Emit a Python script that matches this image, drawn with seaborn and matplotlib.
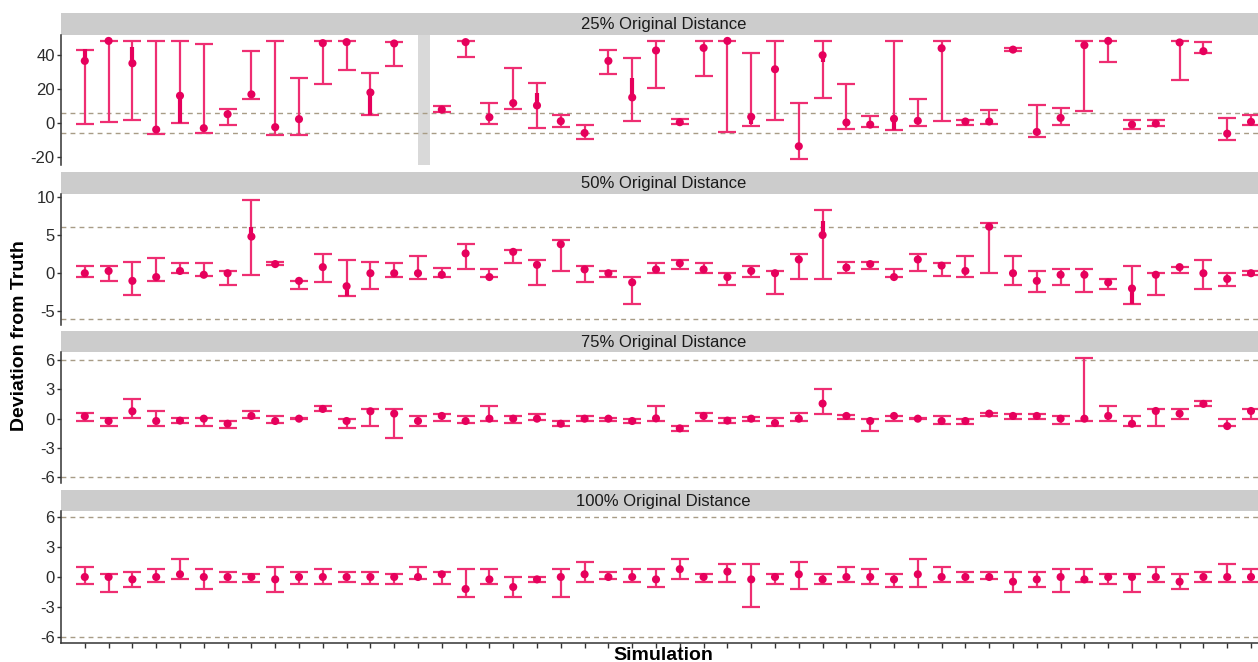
import numpy as np
import pandas as pd
import matplotlib
matplotlib.use("Agg")
import matplotlib.pyplot as plt
import seaborn as sns

sns.set_theme(style="white")
plt.rcParams['font.family'] = ['Liberation Sans', 'DejaVu Sans']

nan = np.nan
simulation = list(range(1, 51))
panel_titles = ["25% Original Distance", "50% Original Distance",
                "75% Original Distance", "100% Original Distance"]

# 25% of the original distance (simulation 15 has no estimate)
est_25 = [36.3, 48.0, 34.9, -3.9, 15.9, -3.1, 5.1, 16.7, -2.5, 2.2,
          46.7, 47.3, 17.8, 46.5, nan, 7.8, 47.3, 3.3, 11.6, 10.2,
          1.0, -5.9, 36.3, 14.9, 42.4, 0.4, 43.9, 48.0, 3.5, 31.4,
          -13.7, 39.6, 0.2, -1.0, 2.4, 1.2, 43.7, 0.8, 0.8, 42.9,
          -5.3, 2.9, 45.5, 48.0, -1.0, -0.4, 47.1, 42.0, -6.3, 0.6]
lo_25 = [-0.8, 0.8, 1.6, -6.5, 0.0, -6.1, -1.2, 14.1, -7.1, -6.9,
         22.7, 31.2, 4.7, 33.5, nan, 6.5, 38.8, -0.6, 8.2, -3.1,
         -2.7, -9.2, 28.8, 1.0, 20.6, -0.8, 27.5, -5.5, -1.8, 1.8,
         -21.2, 14.5, -3.5, -2.4, -4.1, -1.6, 1.0, -1.0, -0.6, 42.2,
         -8.2, -1.4, 6.9, 35.7, -3.7, -1.6, 24.9, 40.8, -10.2, -1.4]
hi_25 = [42.9, 48.0, 48.0, 48.0, 48.0, 46.3, 8.0, 42.0, 48.0, 26.3,
         48.0, 48.0, 29.0, 47.6, nan, 10.0, 48.0, 11.8, 32.0, 23.5,
         4.5, -1.4, 42.5, 38.0, 48.0, 2.0, 48.0, 48.0, 41.0, 48.0,
         11.8, 48.0, 22.9, 3.9, 48.0, 13.9, 48.0, 1.6, 7.6, 43.9,
         10.2, 9.0, 48.0, 48.0, 1.8, 1.6, 48.0, 47.1, 2.9, 4.7]

# 50% of the original distance
est_50 = [0.0, 0.3, -1.0, -0.5, 0.3, -0.2, 0.0, 4.8, 1.2, -1.0,
          0.8, -1.7, 0.0, 0.0, 0.0, -0.2, 2.6, -0.5, 2.8, 1.1,
          3.8, 0.5, 0.0, -1.2, 0.5, 1.3, 0.5, -0.5, 0.3, 0.0,
          1.8, 5.0, 0.75, 1.2, -0.5, 1.8, 1.0, 0.3, 6.1, 0.0,
          -1.0, -0.2, -0.2, -1.2, -2.0, -0.2, 0.8, 0.0, -0.75, 0.0]
lo_50 = [-0.5, -1.0, -2.8, -1.0, 0.0, -0.3, -1.5, -0.2, 1.1, -2.0,
         -1.2, -3.0, -2.0, -0.5, -0.8, -0.5, 0.5, -0.5, 1.3, -1.5,
         0.3, -1.2, -0.5, -4.0, 0.0, 0.5, 0.0, -1.5, -0.5, -2.7,
         -0.8, -0.8, 0.0, 0.5, -0.5, 0.3, -0.3, -0.5, 0.0, -1.5,
         -2.5, -1.5, -2.5, -2.0, -4.0, -2.8, 0.0, -2.0, -1.7, -0.2]
hi_50 = [1.0, 1.0, 1.5, 2.0, 1.3, 1.3, 0.3, 9.6, 1.45, -1.0,
         2.5, 1.8, 1.5, 1.3, 2.3, 0.75, 3.8, 0.5, 3.0, 1.8,
         4.3, 1.0, 0.3, -0.5, 1.3, 1.8, 1.3, 0.0, 1.0, 0.3,
         2.5, 8.3, 1.5, 1.5, 0.5, 2.5, 1.3, 2.3, 6.6, 2.3,
         0.3, 0.5, 0.5, -0.8, 1.0, 0.0, 0.8, 1.8, 0.0, 0.3]

# 75% of the original distance
est_75 = [0.24, -0.24, 0.76, -0.24, -0.2, 0.0, -0.52, 0.28, -0.24, 0.0,
          1.0, -0.24, 0.76, 0.52, -0.24, 0.28, -0.24, 0.0, 0.0, 0.0,
          -0.52, 0.0, 0.0, -0.24, 0.03, -1.0, 0.28, -0.2, 0.0, -0.45,
          0.0, 1.55, 0.28, -0.24, 0.28, 0.0, -0.24, -0.24, 0.52, 0.28,
          0.28, 0.0, 0.0, 0.28, -0.52, 0.79, 0.52, 1.52, -0.76, 0.79]
lo_75 = [-0.24, -0.76, 0.03, -0.76, -0.41, -0.76, -1.0, 0.03, -0.41, -0.03,
         0.76, -1.0, -0.76, -2.0, -0.76, -0.24, -0.48, -0.24, -0.48, -0.14,
         -0.76, -0.24, -0.24, -0.48, -0.24, -1.24, -0.24, -0.41, -0.24, -0.76,
         -0.24, 0.52, 0.0, -1.24, -0.24, -0.07, -0.52, -0.52, 0.28, 0.0,
         0.0, -0.52, -0.24, -0.24, -0.76, -0.76, 0.0, 1.28, -0.76, 0.0]
hi_75 = [0.55, 0.03, 2.0, 0.79, 0.03, 0.03, -0.24, 0.79, 0.28, 0.03,
         1.28, 0.0, 1.03, 1.0, 0.28, 0.52, 0.28, 1.28, 0.28, 0.52,
         -0.24, 0.28, 0.1, 0.0, 1.28, -0.76, 0.55, 0.03, 0.14, 0.03,
         0.55, 3.0, 0.38, 0.0, 0.28, 0.07, 0.24, 0.0, 0.62, 0.52,
         0.52, 0.28, 6.24, 1.28, 0.28, 1.0, 1.0, 1.79, 0.0, 1.0]

# 100% of the original distance
est_100 = [0.0, 0.0, -0.24, 0.0, 0.27, 0.0, 0.0, 0.0, -0.24, 0.0,
           0.0, 0.0, 0.0, 0.0, 0.0, 0.27, -1.2, -0.24, -1.0, -0.24,
           0.0, 0.27, 0.0, 0.0, -0.24, 0.78, 0.0, 0.54, -0.24, 0.0,
           0.27, -0.24, 0.0, 0.0, -0.24, 0.27, 0.0, 0.0, 0.0, -0.47,
           -0.24, 0.0, -0.24, 0.0, 0.0, 0.0, -0.47, 0.0, 0.0, 0.0]
lo_100 = [-0.7, -1.45, -1.0, -0.47, -0.24, -1.2, -0.47, -0.47, -1.45, -0.7,
          -0.7, -0.47, -0.7, -0.7, -0.24, -0.7, -1.96, -0.7, -1.96, -0.47,
          -1.96, -0.47, -0.24, -0.47, -1.0, -0.24, -0.47, -0.47, -2.97, -0.7,
          -1.2, -0.7, -0.47, -0.7, -1.0, -1.0, -0.47, -0.47, -0.24, -1.45,
          -1.0, -1.45, -0.47, -0.7, -1.45, -0.47, -1.2, -0.47, -0.47, -0.47]
hi_100 = [1.0, 0.27, 0.54, 0.78, 1.76, 0.78, 0.54, 0.27, 1.0, 0.54,
          0.78, 0.54, 0.54, 0.27, 1.0, 0.54, 0.78, 0.78, 0.0, 0.0,
          0.78, 1.52, 0.54, 0.78, 0.78, 1.76, 0.27, 1.28, 1.28, 0.27,
          1.52, 0.27, 1.0, 0.78, 0.27, 1.76, 1.0, 0.54, 0.54, 0.54,
          0.54, 0.78, 0.78, 0.27, 0.27, 1.0, 0.27, 0.54, 1.28, 0.78]

# Overlapping inner intervals drawn heavier: (simulation, low, high)
inner_25 = [(1, 36.3, 43.0), (3, 34.9, 44.7), (5, 0.0, 15.9), (13, 4.7, 17.8),
            (20, 10.2, 17.3), (24, 14.9, 26.1), (29, -0.8, 3.5), (32, 35.5, 39.6),
            (35, -4.1, 2.4)]
inner_50 = [(8, 4.8, 6.1), (12, -3.0, -1.7), (32, 5.0, 6.9), (45, -4.0, -2.0)]

reference_band = 6
yticks = [[-20, 0, 20, 40], [-5, 0, 5, 10], [-6, -3, 0, 3, 6], [-6, -3, 0, 3, 6]]

frames = []
for title, e, lo, hi in zip(panel_titles,
                            [est_25, est_50, est_75, est_100],
                            [lo_25, lo_50, lo_75, lo_100],
                            [hi_25, hi_50, hi_75, hi_100]):
    frames.append(pd.DataFrame({"simulation": simulation, "estimate": e,
                                "lower": lo, "upper": hi, "panel": title}))
df = pd.concat(frames, ignore_index=True)
inner = {panel_titles[0]: inner_25, panel_titles[1]: inner_50}

LINE = "#EE2E72"
POINT = "#E6005C"
DASH = "#A89C86"
STRIP = "#CCCCCC"
TXT = "#2B2B2B"

W, H = 1258, 662
fig = plt.figure(figsize=(W / 100, H / 100), dpi=100)
fig.patch.set_facecolor("white")

x_left, x_right = 61, 1266
x_max = (x_right - x_left) / 23.8
layout = [(13, 35, 165), (172, 194, 325), (331, 352, 483), (490, 511, 643)]


def fig_box(top, bottom):
    return [x_left / W, 1 - bottom / H, (x_right - x_left) / W, (bottom - top) / H]


for i, (title, (s_top, a_top, a_bot)) in enumerate(zip(panel_titles, layout)):
    sub = df[df["panel"] == title].dropna()

    # strip with the facet title
    sax = fig.add_axes(fig_box(s_top, a_top))
    sax.set_facecolor(STRIP)
    sax.set_xticks([]); sax.set_yticks([])
    for sp in sax.spines.values():
        sp.set_visible(False)
    sax.text(0.5, 0.47, title, ha="center", va="center", fontsize=12,
             color="#1A1A1A", transform=sax.transAxes)

    ax = fig.add_axes(fig_box(a_top, a_bot))
    ax.set_facecolor("white")

    if i == 0:
        ax.axvspan(15.0, 15.5, color="#D9D9D9", lw=0, zorder=0)

    for yv in (reference_band, -reference_band):
        ax.axhline(yv, color=DASH, lw=1.0, ls=(0, (3.5, 3)), zorder=1)

    ax.vlines(sub["simulation"], sub["lower"], sub["upper"], color=LINE, lw=1.6, zorder=2)
    ax.hlines(sub["upper"], sub["simulation"] - 0.38, sub["simulation"] + 0.38,
              color=LINE, lw=1.6, zorder=2)
    ax.hlines(sub["lower"], sub["simulation"] - 0.38, sub["simulation"] + 0.38,
              color=LINE, lw=1.6, zorder=2)
    for (sx, ilo, ihi) in inner.get(title, []):
        ax.vlines(sx, ilo, ihi, color=POINT, lw=3.0, zorder=3)

    sns.scatterplot(data=sub, x="simulation", y="estimate", ax=ax, color=POINT,
                    s=34, edgecolor="none", linewidth=0, zorder=4, legend=False)

    lo_all = min(sub["lower"].min(), -reference_band)
    hi_all = max(sub["upper"].max(), reference_band)
    pad = 0.05 * (hi_all - lo_all)
    ax.set_ylim(lo_all - pad, hi_all + pad)
    ax.set_xlim(0, x_max)
    ax.set_yticks(yticks[i])
    ax.set_yticklabels([str(t) for t in yticks[i]])
    ax.set_xlabel(""); ax.set_ylabel("")

    for name, sp in ax.spines.items():
        sp.set_visible(name == "left" or (name == "bottom" and i == 3))
        sp.set_color("#333333")
        sp.set_linewidth(1.1)
    ax.tick_params(axis="y", left=True, length=3, width=1.0, color="#333333",
                   labelsize=12, labelcolor=TXT, pad=1.5)
    if i == 3:
        ax.set_xticks(simulation)
        ax.set_xticklabels([])
        ax.tick_params(axis="x", bottom=True, length=3.5, width=1.0, color="#333333")
    else:
        ax.set_xticks([])

fig.text(20 / W, 1 - 336 / H, "Deviation from Truth", rotation=90, ha="center",
         va="center", fontsize=14, fontweight="bold", color="black")
fig.text(663 / W, 1 - 655 / H, "Simulation", ha="center", va="center",
         fontsize=14, fontweight="bold", color="black")

fig.savefig("out.png", dpi=100, facecolor="white")
